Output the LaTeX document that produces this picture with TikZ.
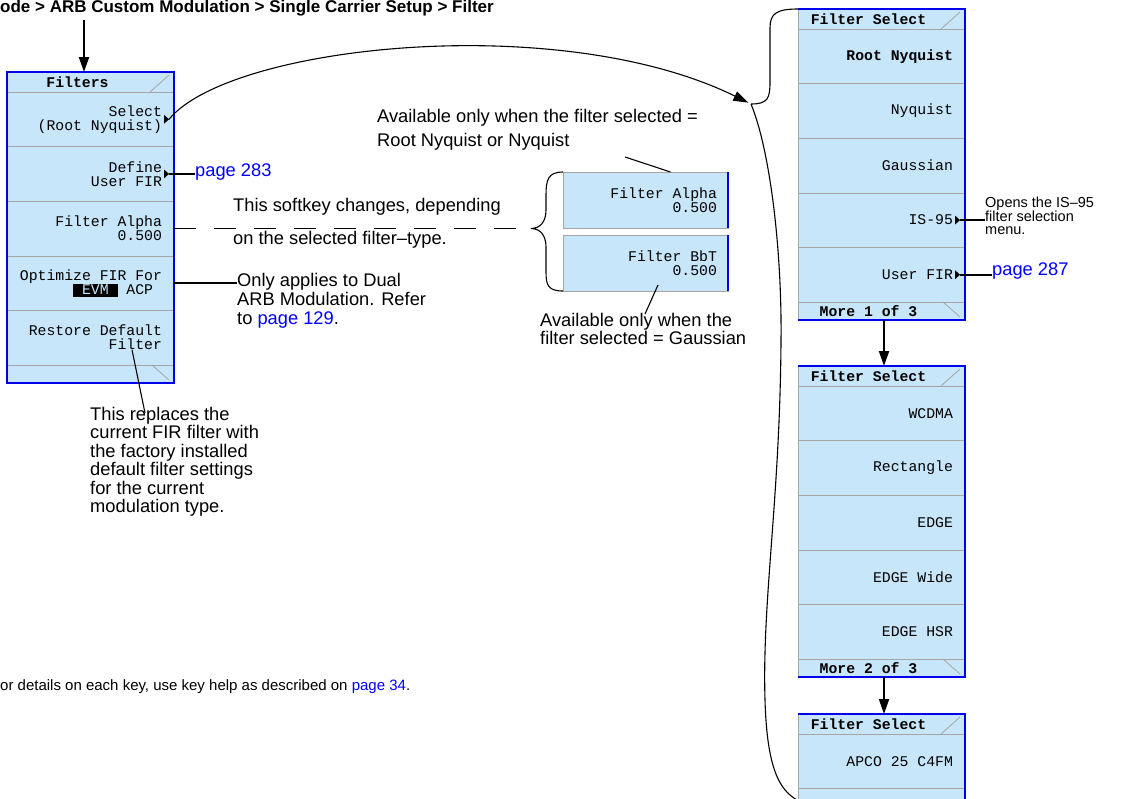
\documentclass[tikz,border=0pt]{standalone}
\usepackage{fontspec}
\setmainfont{Liberation Sans}
\newfontfamily\monofam{Liberation Mono}
\usepackage{xcolor}
\usetikzlibrary{arrows.meta,positioning}
\definecolor{keyblue}{RGB}{200,230,250}
\definecolor{keyline}{RGB}{165,165,165}
\definecolor{panelblue}{RGB}{0,0,235}
\definecolor{linkblue}{RGB}{0,0,255}
\newcommand\notesize{\fontsize{18.3}{18.5}\selectfont}
\newcommand\smallsize{\fontsize{14.5}{13}\selectfont}
\newcommand\keyfont{\fontsize{14.8}{14}\selectfont\monofam}
\newcommand\keyfontb{\fontsize{14.8}{14}\selectfont\monofam\bfseries}
\newcommand\ks{\hskip8.88pt\relax}
\newcommand\lnk[1]{\textcolor{linkblue}{#1}}
\newcommand\hdtxt[1]{\hbox to 143pt{\hss#1\hss\hskip26pt}}
\newcommand\evmbox{{\fboxsep=0pt\colorbox{black}{\rule[-2.5pt]{0pt}{12.5pt}\textcolor{keyblue}{\ks EVM\ks}}}}
\newcommand\keytri[1]{\fill (#1) -- ++(-5,-4.5) -- ++(0,9) -- cycle;}

\begin{document}
\begin{tikzpicture}[x=1pt, y=-1pt,
    key/.style={draw=keyline, fill=keyblue, outer sep=0pt, inner sep=0pt, minimum width=167pt, minimum height=54.6pt, text width=143pt, align=right, font=\keyfont},
    keybold/.style={key, font=\keyfontb},
    keyhd/.style={keybold, minimum height=20pt, align=center},
    keyft/.style={keyhd, minimum height=18pt},
    panel/.style={draw=panelblue, line width=2.5pt},
    tabline/.style={draw=keyline, line width=0.8pt},
    note/.style={anchor=west, align=left, inner sep=0pt, font=\notesize},
    smallnote/.style={note, font=\smallsize},
    lead/.style={line width=1.6pt},
    thinline/.style={line width=1.1pt},
    arr/.style={-{Triangle[length=15pt,width=10pt]}, line width=2pt},
    curvearr/.style={-{Triangle[length=15pt,width=10pt]}, line width=1.1pt},
    dashline/.style={line width=1.6pt, dash pattern=on 22pt off 18pt}
]
\useasboundingbox (0,0) rectangle (1126,798);

% menu path
\node[note, anchor=base west, font=\bfseries\fontsize{17}{18}\selectfont] (hdr) at (0,12.5) {ode > ARB Custom Modulation > Single Carrier Setup > Filter};
\coordinate (a0) at (84,20);

% Filters menu
\node[keyhd] (f0) at (90.5,82) {\hdtxt{Filters}};
\node[key, below=0pt of f0] (f1) {Select\\(Root\ks Nyquist)};
\node[key, below=0pt of f1] (f2) {Define\\User\ks FIR};
\node[key, below=0pt of f2] (f3) {Filter\ks Alpha\\0.500};
\node[key, below=0pt of f3] (f4) {Optimize\ks FIR\ks For\\\evmbox\ks ACP\ks\mbox{}};
\node[key, below=0pt of f4] (f5) {Restore\ks Default\\Filter};
\node[keyft, below=0pt of f5] (f6) {};
\draw[panel] (f0.north west) rectangle (f6.south east);

% alternative softkeys
\node[key, minimum width=165pt, minimum height=56pt] (ka) at (645.5,200) {Filter\ks Alpha\\0.500};
\node[key, minimum width=165pt, minimum height=56pt] (kb) at (645.5,263) {Filter\ks BbT\\0.500};
\draw[panel] (ka.north east) -- (ka.south east);
\draw[panel] (kb.north east) -- (kb.south east);

% Filter Select menus
\node[keyhd] (p0) at (881.5,19) {\hdtxt{Filter\ks Select}};
\node[keybold, below=0pt of p0] (p1) {Root\ks Nyquist};
\node[key, below=0pt of p1] (p2) {Nyquist};
\node[key, below=0pt of p2] (p3) {Gaussian};
\node[key, below=0pt of p3] (p4) {IS-95};
\node[key, below=0pt of p4] (p5) {User\ks FIR};
\node[keyft, below=0pt of p5] (p6) {\hdtxt{More\ks 1\ks of\ks 3}};
\draw[panel] (p0.north west) -- (p0.north east) -- (p6.south east) -- (p6.south west);

\node[keyhd] (q0) at (881.5,376) {\hdtxt{Filter\ks Select}};
\node[key, below=0pt of q0] (q1) {WCDMA};
\node[key, below=0pt of q1] (q2) {Rectangle};
\node[key, below=0pt of q2] (q3) {EDGE};
\node[key, below=0pt of q3] (q4) {EDGE\ks Wide};
\node[key, below=0pt of q4] (q5) {EDGE\ks HSR};
\node[keyft, below=0pt of q5] (q6) {\hdtxt{More\ks 2\ks of\ks 3}};
\draw[panel] (q0.north west) -- (q0.north east) -- (q6.south east) -- (q6.south west);

\node[keyhd] (r0) at (881.5,724) {\hdtxt{Filter\ks Select}};
\node[key, below=0pt of r0] (r1) {APCO\ks 25\ks C4FM};
\node[key, below=0pt of r1] (r2) {};
\draw[panel] (r0.north west) -- (r0.north east) -- (r2.south east);

\foreach \t in {f0,p0,q0,r0}
  {\draw[tabline] ([xshift=-24pt]\t.south east) -- ([xshift=-5pt,yshift=-3pt]\t.north east);}
\foreach \t in {f6,p6,q6}
  {\draw[tabline] ([xshift=-22pt]\t.north east) -- ([xshift=-5pt,yshift=3pt]\t.south east);}

\coordinate (t1) at ([xshift=-5pt]f1.east);
\coordinate (t2) at ([xshift=-5pt]f2.east);
\coordinate (tis) at ([xshift=-5pt]p4.east);
\coordinate (tuf) at ([xshift=-5pt]p5.east);
\foreach \t in {t1,t2,tis,tuf} {\keytri{\t}}

% notes
\node[note, font=\fontsize{18.3}{24}\selectfont] (n1) at (377,130) {Available only when the filter selected =\\Root Nyquist or Nyquist};
\node[note] (n2) at (233,207) {This softkey changes, depending};
\node[note] (n3) at (233,240) {on the selected filter–type.};
\node[note, font=\fontsize{18.3}{19}\selectfont] (n4) at (237,301) {Only applies to Dual\\ARB Modulation. Refer\\to \lnk{page 129}.};
\node[note] (n5) at (540,329) {Available only when the\\filter selected = Gaussian};
\node[note] (n6) at (90,462) {This replaces the\\current FIR filter with\\the factory installed\\default filter settings\\for the current\\modulation type.};
\node[note, text=linkblue] (n7) at (195,172) {page 283};
\node[note, text=linkblue] (n8) at (992,271) {page 287};
\node[smallnote] (n9) at (985,216) {Opens the IS–95\\filter selection\\menu.};
\node[smallnote, font=\fontsize{15}{15}\selectfont] (n10) at (0,687) {or details on each key, use key help as described on \lnk{page 34}.};

\coordinate (bt) at (531,228.5);
\coordinate (rb) at (751,104);
\coordinate (n1p) at (625,157);
\coordinate (n5p) at (645,314);
\coordinate (n6p) at (145,413);

% connectors
\draw[arr] (a0) -- (a0 |- f0.north);
\draw[arr] ([xshift=2.5pt]p6.south) -- ([xshift=2.5pt]q0.north);
\draw[arr] ([xshift=2.5pt]q6.south) -- ([xshift=2.5pt]r0.north);
\draw[curvearr, shorten >=3pt] (t1) .. controls (230,45) and (560,10) .. (rb);
\draw[thinline] (rb) .. controls (768,104) and (770,98) .. (770,82) -- (770,28) .. controls (770,14) and (776,9) .. (p0.north west);
\draw[thinline] (rb) .. controls (770,150) and (782,250) .. (781,340) .. controls (780,500) and (762,600) .. (765,700) .. controls (767,770) and (780,790) .. (797,800);
\draw[lead] (t2) -- (t2 -| n7.west);
\draw[dashline] (f3.east) -- (bt);
\draw[thinline] (ka.north west) .. controls (548,172) and (546,180) .. (546,195) -- (546,210) .. controls (546,222) and (540,228.5) .. (bt) .. controls (540,228.5) and (546,235) .. (546,247) -- (546,272) .. controls (546,285) and (548,291) .. (kb.south west);
\draw[thinline] (n1p) -- ([xshift=25pt]ka.north);
\draw[thinline] ([xshift=12.5pt,yshift=6pt]kb.south) -- (n5p);
\draw[lead] (f4.east) -- (f4.east -| n4.west);
\draw[thinline] ([xshift=41.5pt,yshift=-12pt]f5.center) -- (n6p);
\draw[lead] (tis) -- (tis -| n9.west);
\draw[lead] (tuf) -- (tuf -| n8.west);
\end{tikzpicture}
\end{document}
